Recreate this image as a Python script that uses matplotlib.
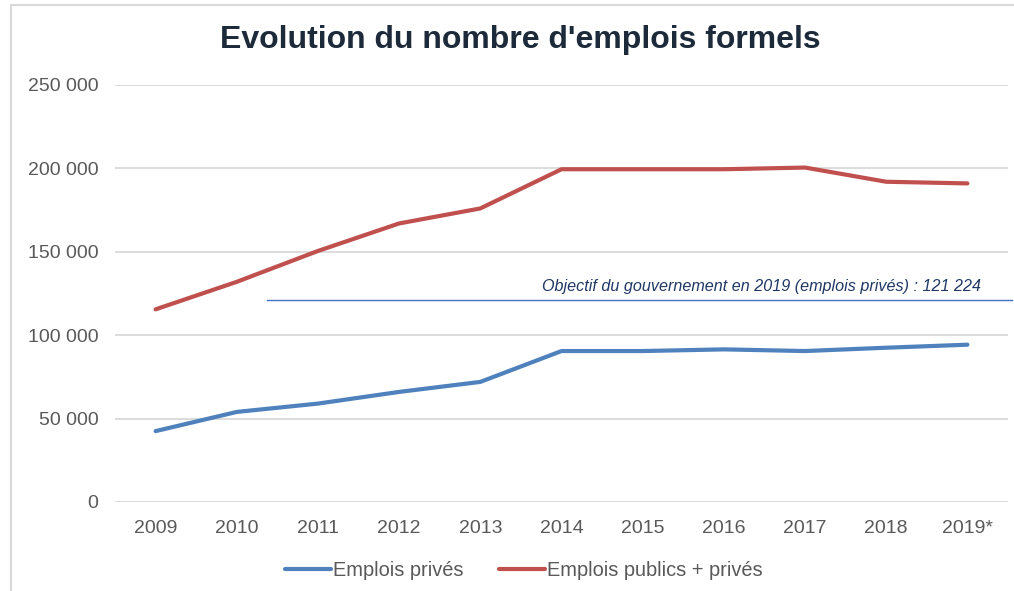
import matplotlib.pyplot as plt
import matplotlib.ticker as mticker
from matplotlib.patches import Rectangle

plt.rcParams['font.family'] = ['Liberation Sans', 'DejaVu Sans']

######################### DATA ################################################

years = ['2009', '2010', '2011', '2012', '2013', '2014', '2015', '2016', '2017', '2018', '2019*']
prives = [42500, 54000, 59000, 66000, 72000, 90500, 90500, 91500, 90500, 92500, 94300]
publics_prives = [115500, 132000, 150500, 167000, 176000, 199500, 199500, 199500, 200500, 192000, 191000]
objectif = 121224
objectif_txt = "Objectif du gouvernement en 2019 (emplois privés) : 121 224"

######################### FIG PARAMS ##########################################

blue = '#4F81BD'
red = '#C0504D'
grey_txt = '#595959'
grid_c = '#D9D9D9'
lw = 3.0
fs = 14

######################### GENERATE FIG ########################################

fig = plt.figure(figsize=(10.14, 5.91), dpi=100)
ax = fig.add_axes([115/1014, 89/591, (1008-115)/1014, (502-85)/591])

x = list(range(len(years)))
ax.plot(x, prives, color=blue, lw=lw, label='Emplois privés', solid_capstyle='round')
ax.plot(x, publics_prives, color=red, lw=lw, label='Emplois publics + privés', solid_capstyle='round')

# objectif line + label
ax.plot([1.37, 10.55], [objectif, objectif], color='#4472C4', lw=1.0, clip_on=False)
ax.text(10.17, 124700, objectif_txt, ha='right', va='bottom', fontsize=11.6,
        style='italic', color='#1F3864')

ax.set_xlim(-0.5, 10.5)
ax.set_ylim(0, 250000)
ax.set_xticks(x)
ax.set_xticklabels(years)
ax.set_yticks(range(0, 250001, 50000))
ax.yaxis.set_major_formatter(mticker.FuncFormatter(lambda v, p: '{:,.0f}'.format(v).replace(',', ' ')))
ax.tick_params(axis='both', length=0, labelsize=fs, labelcolor=grey_txt)
ax.tick_params(axis='y', pad=12)
ax.tick_params(axis='x', pad=13)
ax.grid(axis='y', color=grid_c, lw=1.3)
ax.set_axisbelow(True)
for s in ax.spines.values():
    s.set_visible(False)

fig.text(520/1014, 1 - 40/591, "Evolution du nombre d'emplois formels", ha='center', va='center',
         fontsize=23, fontweight='bold', color='#1C2A3A')

fig.legend(loc='center', bbox_to_anchor=(524/1014, 1 - 570/591), ncol=2, frameon=False,
           fontsize=14.4, labelcolor=grey_txt, handlelength=2.3, handletextpad=0.1,
           columnspacing=1.8)

# outer frame
fig.patches.append(Rectangle((11/1014, -0.05), 1.1, 1 - 5/591 + 0.05, transform=fig.transFigure,
                             fill=False, edgecolor='#D9D9D9', lw=1.5))

#### Save #####################################################################
plt.savefig('out.png', dpi=100)
plt.close()
